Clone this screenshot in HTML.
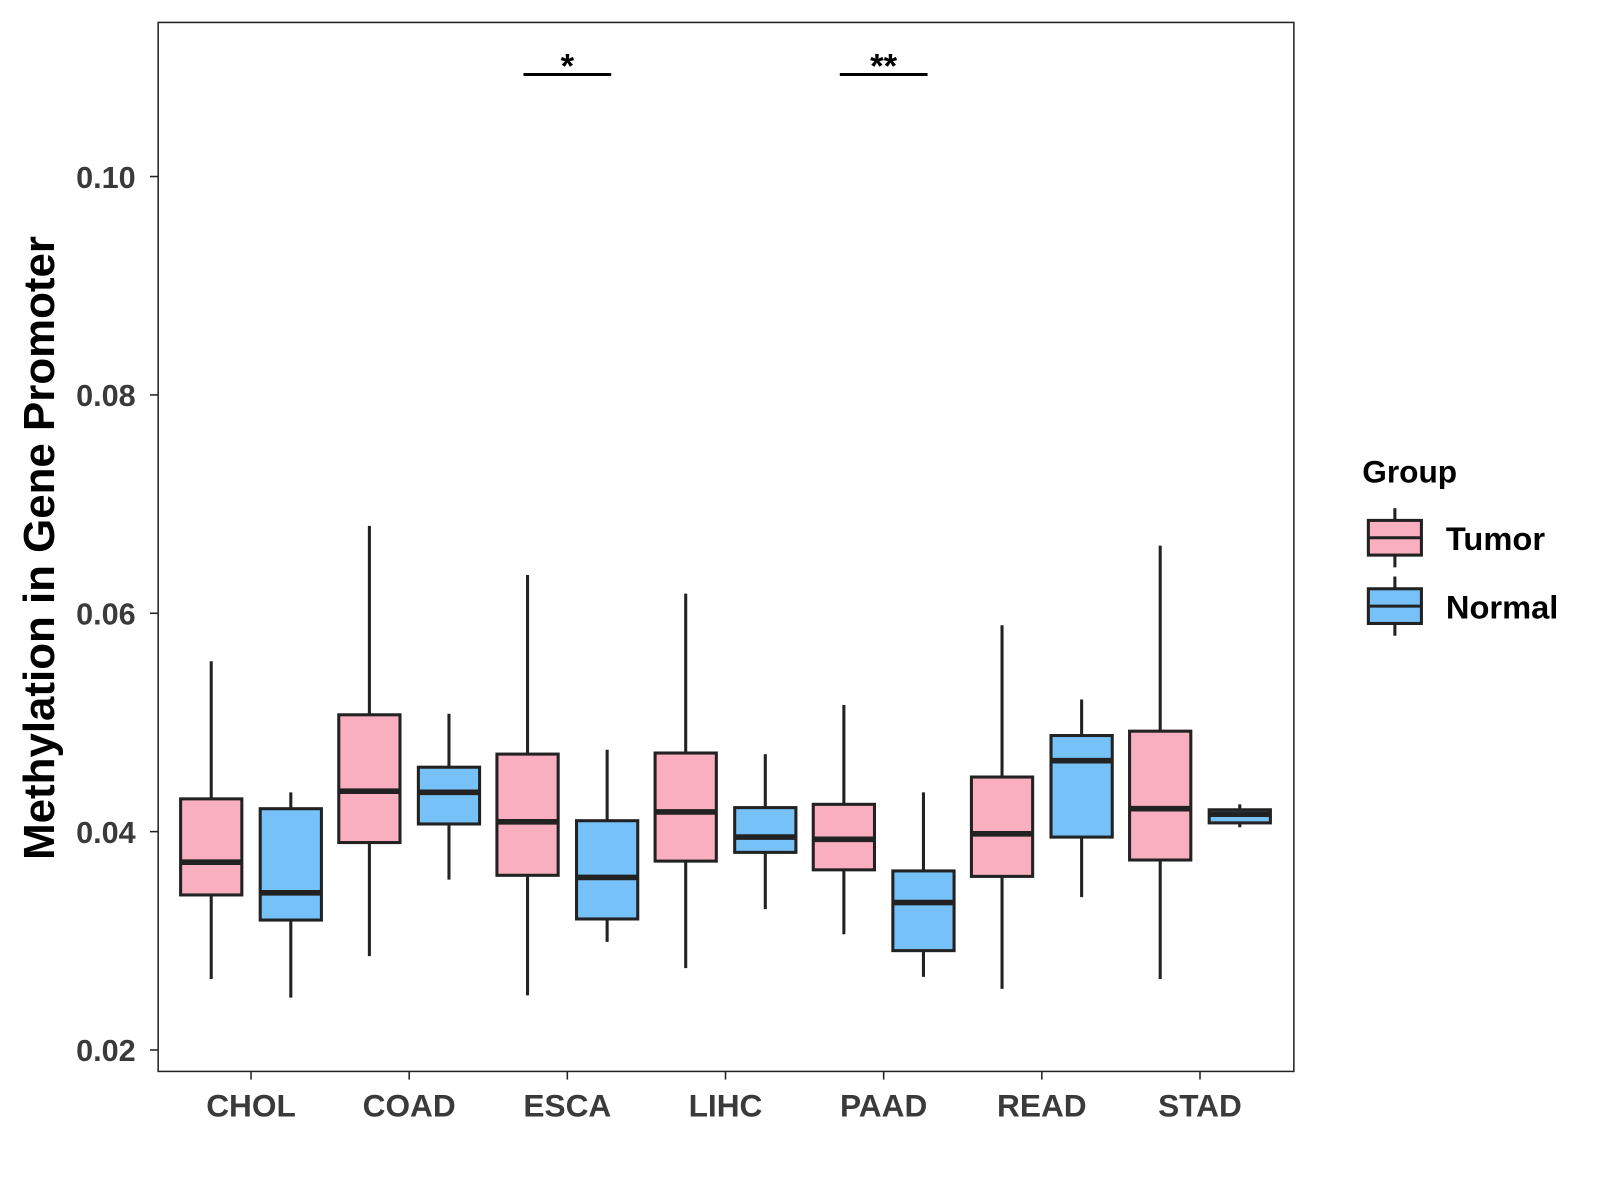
<!DOCTYPE html>
<html><head><meta charset="utf-8"><style>
html,body{margin:0;padding:0;background:#fff}
svg{display:block;font-family:"Liberation Sans",Arial,sans-serif}
</style></head><body>
<svg id="chart" width="1600" height="1200" viewBox="0 0 1600 1200">
<g transform="scale(1.0204)">
<rect x="155" y="22" width="1113" height="1028" fill="#fff" stroke="#222" stroke-width="1.5"/>
<g id="yaxis"></g>
<g id="xaxis"></g>
<g id="boxes"></g>
<g id="sig"></g>
<text x="53" y="537" transform="rotate(-90 53 537)" text-anchor="middle" font-size="43" font-weight="bold" fill="#000">Methylation in Gene Promoter</text>
<g>
<text x="1335" y="473" font-size="31" font-weight="bold" fill="#000">Group</text>
<g>
<line x1="1367" y1="498" x2="1367" y2="556" stroke="#222" stroke-width="3"/>
<rect x="1341" y="510" width="52" height="34" fill="#FAAFC1" stroke="#222" stroke-width="3"/>
<line x1="1341" y1="527" x2="1393" y2="527" stroke="#222" stroke-width="3"/>
<text x="1417" y="539" font-size="32" font-weight="bold" fill="#000">Tumor</text>
</g>
<g>
<line x1="1367" y1="565" x2="1367" y2="623" stroke="#222" stroke-width="3"/>
<rect x="1341" y="577" width="52" height="34" fill="#76C1F8" stroke="#222" stroke-width="3"/>
<line x1="1341" y1="594" x2="1393" y2="594" stroke="#222" stroke-width="3"/>
<text x="1417" y="606" font-size="32" font-weight="bold" fill="#000">Normal</text>
</g>
</g>
</g>
</svg>
<script>
const categories=["CHOL","COAD","ESCA","LIHC","PAAD","READ","STAD"];
// [whiskerLow, Q1, median, Q3, whiskerHigh]
const tumorStats=[
[0.0265,0.0342,0.0372,0.0430,0.0556],
[0.0286,0.0390,0.0437,0.0507,0.0680],
[0.0250,0.0360,0.0409,0.0471,0.0635],
[0.0275,0.0373,0.0418,0.0472,0.0618],
[0.0306,0.0365,0.0393,0.0425,0.0516],
[0.0256,0.0359,0.0398,0.0450,0.0589],
[0.0265,0.0374,0.0421,0.0492,0.0662]];
const normalStats=[
[0.0248,0.0319,0.0344,0.0421,0.0436],
[0.0356,0.0407,0.0436,0.0459,0.0508],
[0.0299,0.0320,0.0358,0.0410,0.0475],
[0.0329,0.0381,0.0395,0.0422,0.0471],
[0.0267,0.0291,0.0335,0.0364,0.0436],
[0.0340,0.0395,0.0465,0.0488,0.0521],
[0.0404,0.0408,0.0416,0.0420,0.0425]];
const yTicks=[0.02,0.04,0.06,0.08,0.10];
const yTickLabels=["0.02","0.04","0.06","0.08","0.10"];
const sigCategories=["ESCA","PAAD"];
const sigLabels=["*","**"];

const NS="http://www.w3.org/2000/svg";
const y=v=>1029-(v-0.02)*10700;
const x=i=>246+i*155;
function mk(tag,attrs,parent){const e=document.createElementNS(NS,tag);for(const k in attrs)e.setAttribute(k,attrs[k]);parent.appendChild(e);return e;}
const ya=document.getElementById('yaxis'),xa=document.getElementById('xaxis'),bx=document.getElementById('boxes'),sg=document.getElementById('sig');
yTicks.forEach((t,i)=>{
  const l=mk('line',{x1:147,x2:155,y1:y(t),y2:y(t),stroke:'#222','stroke-width':1.5},ya);
  
  
  const tx=mk('text',{x:133,y:y(t)+11,'text-anchor':'end','font-size':30,'font-weight':'bold',fill:'#3a3a3a'},ya);
  tx.textContent=yTickLabels[i];
  
  
});
categories.forEach((c,i)=>{
  const l=mk('line',{x1:x(i),x2:x(i),y1:1050,y2:1058,stroke:'#222','stroke-width':1.5},xa);
  
  
  const tx=mk('text',{x:x(i),y:1094,'text-anchor':'middle','font-size':31,'font-weight':'bold',fill:'#3a3a3a'},xa);
  tx.textContent=c;
  
  
});
function drawBox(cx,s,fill,name){
  const g=mk('g',{},bx);
  
  
  mk('line',{x1:cx,x2:cx,y1:y(s[0]),y2:y(s[4]),stroke:'#222','stroke-width':3},g);
  mk('rect',{x:cx-30,y:y(s[3]),width:60,height:y(s[1])-y(s[3]),fill:fill,stroke:'#222','stroke-width':3},g);
  mk('line',{x1:cx-30,x2:cx+30,y1:y(s[2]),y2:y(s[2]),stroke:'#222','stroke-width':5.5},g);
}
categories.forEach((c,i)=>{
  drawBox(x(i)-39,tumorStats[i],'#FAAFC1','box-tumor-'+c.toLowerCase());
  drawBox(x(i)+39,normalStats[i],'#76C1F8','box-normal-'+c.toLowerCase());
});
sigCategories.forEach((c,k)=>{
  const i=categories.indexOf(c);
  const l=mk('line',{x1:x(i)-43,x2:x(i)+43,y1:73,y2:73,stroke:'#000','stroke-width':3},sg);
  
  
  const t=mk('text',{x:x(i),y:76,'text-anchor':'middle','font-size':34,'font-weight':'bold',fill:'#000'},sg);
  t.textContent=sigLabels[k];
  
  
});
</script>
</body></html>
